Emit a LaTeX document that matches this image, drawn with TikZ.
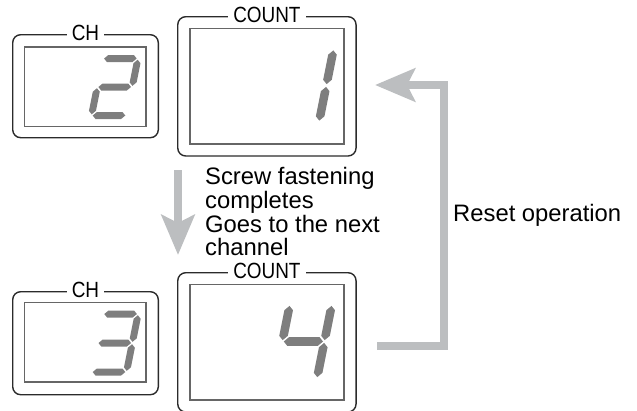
\documentclass[tikz,border=0pt]{standalone}
\usepackage{fontspec}
\setmainfont{Liberation Sans}
\newfontfamily\labfont[FakeStretch=0.86]{Liberation Sans}
\usetikzlibrary{arrows.meta}
\definecolor{segc}{HTML}{7E7E7E}
\definecolor{arrc}{HTML}{BCBEC0}
\definecolor{outc}{HTML}{2B2B2B}
\definecolor{innc}{HTML}{666666}
\tikzset{
  outerbox/.style={draw=outc, line width=1.4pt, rounded corners=8pt, inner sep=0pt},
  innerbox/.style={draw=innc, line width=1.4pt, inner sep=0pt},
  boxlabel/.style={fill=white, inner xsep=5pt, inner ysep=0pt, text=black, font=\labfont\fontsize{22}{23}\selectfont},
  bigarrow/.style={draw=arrc, line width=8pt, -{Stealth[length=40pt, width=33pt, inset=8pt]}},
  maintext/.style={inner sep=0pt, text=black, font=\fontsize{23.8}{23.7}\selectfont},
}
\newcommand\hs[3]{\fill[segc] ({#1+\myg},{#3}) -- ({#1+\myg+\myh},{#3+\myh}) -- ({#2-\myg-\myh},{#3+\myh}) -- ({#2-\myg},{#3}) -- ({#2-\myg-\myh},{#3-\myh}) -- ({#1+\myg+\myh},{#3-\myh}) -- cycle;}
\newcommand\vs[3]{\fill[segc] ({#1},{#2+\myg}) -- ({#1+\myh},{#2+\myg+\myh}) -- ({#1+\myh},{#3-\myg-\myh}) -- ({#1},{#3-\myg}) -- ({#1-\myh},{#3-\myg-\myh}) -- ({#1-\myh},{#2+\myg+\myh}) -- cycle;}
\newcommand\segA{\hs{0}{\W}{\H}}
\newcommand\segB{\vs{\W}{\H/2}{\H}}
\newcommand\segC{\vs{\W}{0}{\H/2}}
\newcommand\segD{\hs{0}{\W}{0}}
\newcommand\segE{\vs{0}{0}{\H/2}}
\newcommand\segF{\vs{0}{\H/2}{\H}}
\newcommand\segG{\hs{0}{\W}{\H/2}}
\begin{document}
\begin{tikzpicture}[x=1pt, y=-1pt]
\useasboundingbox (0,0) rectangle (637,410);
% top row
\node[outerbox, minimum width=145.6pt, minimum height=103pt] (chA) at (85.5,86.2) {};
\node[innerbox, minimum width=121.7pt, minimum height=79.3pt] (chAin) at (85.2,86.7) {};
\node[boxlabel] (chAlab) at ([yshift=1pt]chA.north) {CH};
\node[outerbox, minimum width=178.3pt, minimum height=139.3pt] (cnA) at (266.9,86.35) {};
\node[innerbox, minimum width=154pt, minimum height=115.7pt] (cnAin) at (267,86.2) {};
\node[boxlabel] (cnAlab) at ([yshift=1pt]cnA.north) {COUNT};
% bottom row
\node[outerbox, minimum width=145.6pt, minimum height=103pt] (chB) at (85.5,343.2) {};
\node[innerbox, minimum width=121.7pt, minimum height=79.3pt] (chBin) at (85.2,342.4) {};
\node[boxlabel] (chBlab) at ([yshift=1pt]chB.north) {CH};
\node[outerbox, minimum width=178.3pt, minimum height=139.3pt] (cnB) at (266.9,342.35) {};
\node[innerbox, minimum width=154pt, minimum height=115.7pt] (cnBin) at (267,342.15) {};
\node[boxlabel] (cnBlab) at ([yshift=1pt]cnB.north) {COUNT};
% digits
\begin{scope}[shift={(91.5,115.5)}, xslant=0.2, y=1pt]
  \def\W{35}\def\H{57}\def\myh{3.5}\def\myg{1.2}
  \segA\segB\segG\segE\segD
\end{scope}
\begin{scope}[shift={(91.5,372)}, xslant=0.2, y=1pt]
  \def\W{35}\def\H{58}\def\myh{3.5}\def\myg{1.2}
  \segA\segB\segG\segC\segD
\end{scope}
\begin{scope}[shift={(277,122)}, xslant=0.2, y=1pt]
  \def\W{42}\def\H{73}\def\myh{4.3}\def\myg{1.4}
  \segB\segC
\end{scope}
\begin{scope}[shift={(275,378.5)}, xslant=0.2, y=1pt]
  \def\W{42}\def\H{74}\def\myh{4.3}\def\myg{1.4}
  \segF\segB\segG\segC
\end{scope}
% arrows
\coordinate (dA) at (178,170);
\coordinate (dB) at (178,255);
\draw[bigarrow] (dA) -- (dB);
\coordinate (r1) at (377,345.5);
\coordinate (r2) at (443.5,85);
\coordinate (r3) at (375,85);
\draw[bigarrow, line join=miter] (r1) -| (r2) -- (r3);
% texts
\node[maintext, anchor=north west, align=left] (t1) at (205,167.3) {Screw fastening\\completes\\Goes to the next\\channel};
\node[maintext, anchor=base west] (t2) at (453,221) {Reset operation};
\end{tikzpicture}
\end{document}
